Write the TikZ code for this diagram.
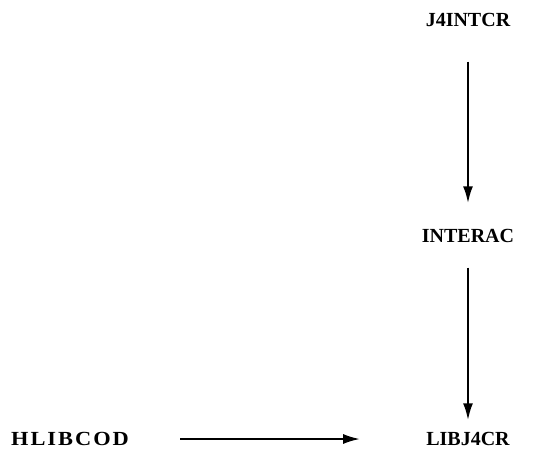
\documentclass[tikz,border=0pt]{standalone}
\usepackage{fontspec}
\setmainfont{Liberation Serif}
\usetikzlibrary{arrows.meta}
\begin{document}
\begin{tikzpicture}[x=1pt,y=-1pt,
  lbl/.style={inner sep=0pt, text height=13pt, text depth=0pt,
    font=\fontsize{20}{22}\selectfont\bfseries},
  conn/.style={line width=2.2pt, -{Latex[length=17pt,width=10pt]}}]
\useasboundingbox (0,0) rectangle (535,466);
\node[lbl] (j4) at (468,20) {J4INTCR};
\node[lbl] (inter) at (468,236) {INTERAC};
\node[lbl] (lib) at (468,439) {LIBJ4CR};
\node[lbl] (hlib) at (70,439) {\addfontfeature{FakeStretch=1.12,LetterSpace=10}HLIBCOD};
\draw[conn, shorten <=51pt, shorten >=66pt] (hlib) -- (lib);
\draw[conn, shorten <=35pt, shorten >=26pt] (j4) -- (inter);
\draw[conn, shorten <=25pt, shorten >=12pt] (inter) -- (lib);
\end{tikzpicture}
\end{document}
